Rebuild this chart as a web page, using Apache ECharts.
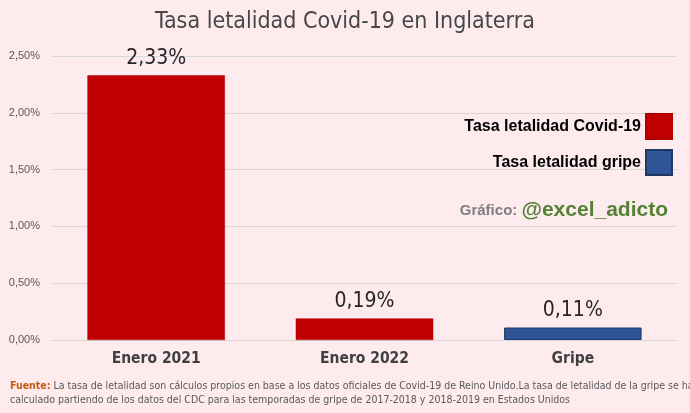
<!DOCTYPE html>
<html><head><meta charset="utf-8">
<script src="https://cdn.jsdelivr.net/npm/echarts@6/dist/echarts.min.js"></script>
<style>html,body{margin:0;padding:0;background:#fdebee}#c{width:690px;height:413px}</style>
</head><body><div id="c"></div>
<script>
var categories = ['Enero 2021', 'Enero 2022', 'Gripe'];
var covidValues = [2.33, 0.19, null];
var gripeValues = [null, null, 0.11];
var seriesNames = ['Tasa letalidad Covid-19', 'Tasa letalidad gripe'];
var titleText = 'Tasa letalidad Covid-19 en Inglaterra';
var fmt = function (v) { return v.toFixed(2).replace('.', ',') + '%'; };
var condFont = '"DejaVu Sans Condensed", "DejaVu Sans", sans-serif';
var chart = echarts.init(document.getElementById('c'));
var labelCfg = {
  show: true, position: 'top', distance: 6,
  formatter: function (p) { return fmt(p.value); },
  fontFamily: condFont, fontSize: 21, color: '#262626'
};
chart.setOption({
  backgroundColor: '#fdebee',
  animation: false,
  title: {
    text: titleText, left: 'center', top: 6,
    textStyle: { fontFamily: condFont, fontSize: 23, fontWeight: 'normal', color: '#474747' }
  },
  legend: {
    orient: 'vertical', right: 12, top: 108, align: 'right',
    itemWidth: 26, itemHeight: 25, itemGap: 9, icon: 'rect',
    textStyle: { fontFamily: '"Liberation Sans", Arial, sans-serif', fontWeight: 'bold', fontSize: 16, color: '#000' },
    data: seriesNames
  },
  grid: { left: 52, right: 13, top: 56, bottom: 73 },
  xAxis: {
    type: 'category', data: categories,
    axisLine: { lineStyle: { color: '#d9d9d9' } },
    axisTick: { show: false },
    axisLabel: { fontFamily: condFont, fontWeight: 'bold', fontSize: 15.5, color: '#404040', margin: 11 }
  },
  yAxis: {
    type: 'value', min: 0, max: 2.5, interval: 0.5,
    axisLabel: { formatter: fmt, fontFamily: '"Liberation Sans", Arial, sans-serif', fontSize: 11, color: '#595959', margin: 12 },
    splitLine: { lineStyle: { color: '#d9d9d9' } }
  },
  series: [
    { name: seriesNames[0], type: 'bar', stack: 's', data: covidValues, barWidth: '66%',
      itemStyle: { color: '#c00000', borderColor: '#b00000', borderWidth: 0.5 }, label: labelCfg },
    { name: seriesNames[1], type: 'bar', stack: 's', data: gripeValues, barWidth: '66%',
      itemStyle: { color: '#2f5597', borderColor: '#203864', borderWidth: 1 }, label: labelCfg }
  ],
  graphic: [
    { type: 'text', right: 22, top: 200,
      style: { rich: {
        a: { fontFamily: '"Liberation Sans", Arial, sans-serif', fontWeight: 'bold', fontSize: 15, fill: '#7f7f7f' },
        b: { fontFamily: '"Liberation Sans", Arial, sans-serif', fontWeight: 'bold', fontSize: 21, fill: '#548235' }
      }, text: '{a|Gráfico: }{b|@excel_adicto}' } },
    { type: 'text', left: 10, top: 381,
      style: { rich: {
        a: { fontFamily: condFont, fontWeight: 'bold', fontSize: 10.5, fill: '#c55a11' },
        b: { fontFamily: condFont, fontSize: 10.5, fill: '#595959', lineHeight: 14 }
      }, text: '{a|Fuente:}{b| La tasa de letalidad son cálculos propios en base a los datos oficiales de Covid-19 de Reino Unido.La tasa de letalidad de la gripe se ha}\n{b|calculado partiendo de los datos del CDC para las temporadas de gripe de 2017-2018 y 2018-2019 en Estados Unidos}' } }
  ]
});
</script></body></html>
